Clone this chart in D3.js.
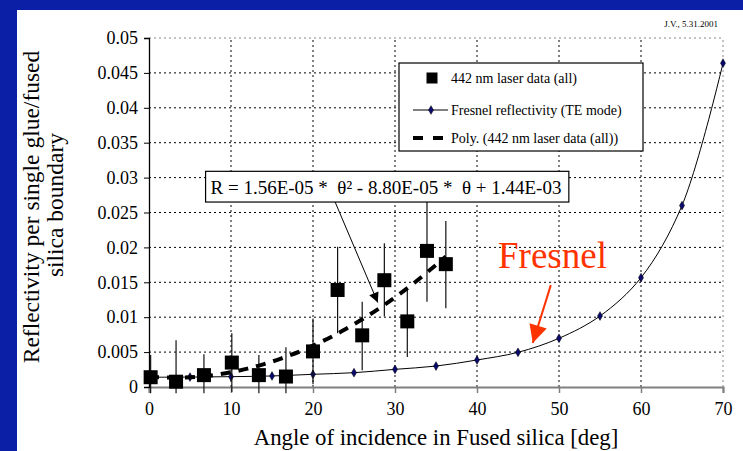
<!DOCTYPE html>
<html>
<head>
<meta charset="utf-8">
<script src="https://cdn.jsdelivr.net/npm/d3@7"></script>
<style>
  body { margin: 0; padding: 0; overflow: hidden; }
  svg text { font-family: "Liberation Serif", "Times New Roman", serif; }
</style>
</head>
<body>
<div id="plotArea"></div>
<script>
// laser measurements (442 nm)
const laserAngle = [0.2, 3.3, 6.7, 10.1, 13.4, 16.7, 20.0, 23.0, 26.0, 28.7, 31.5, 33.9, 36.2];
const laserR     = [0.0014, 0.00076, 0.0017, 0.0035, 0.0017, 0.0015, 0.0051, 0.0139, 0.0074, 0.0153, 0.0094, 0.0195, 0.0176];
const laserHigh  = [0.0046, 0.0067, 0.0047, 0.0077, 0.0046, 0.0057, 0.0098, 0.0201, 0.0122, 0.0206, 0.0139, 0.0268, 0.0238];
const laserLow   = [-0.0009, -0.0009, -0.0009, -0.0007, -0.0009, -0.0009, 0.0004, 0.0077, 0.0024, 0.0101, 0.0043, 0.0122, 0.0113];

// Fresnel reflectivity, TE mode
const fresnelAngle = [0, 5, 10, 15, 20, 25, 30, 35, 40, 45, 50, 55, 60, 65, 70];
const fresnelR     = [0.0014, 0.00142, 0.00148, 0.00158, 0.00182, 0.00205, 0.00253, 0.0030, 0.00387, 0.00497, 0.00698, 0.01017, 0.01566, 0.026, 0.0464];

// polynomial trendline as drawn
const trendAngle = [0, 4, 8, 12, 16, 20, 24, 28, 32, 36.2];
const trendR     = [0.00144, 0.00134, 0.00173, 0.00263, 0.00403, 0.00592, 0.00831, 0.01121, 0.0146, 0.01869];

const xTicks = [0, 10, 20, 30, 40, 50, 60, 70];
const yTicks = [0, 0.005, 0.01, 0.015, 0.02, 0.025, 0.03, 0.035, 0.04, 0.045, 0.05];

const legendLabels = ["442 nm laser data (all)", "Fresnel reflectivity (TE mode)", "Poly. (442 nm laser data (all))"];
const equationText = "R = 1.56E-05 *  \u03b8\u00b2 - 8.80E-05 *  \u03b8 + 1.44E-03";

const serif = "'Liberation Serif', 'Times New Roman', serif";

let W = 743, H = 451;
let svg = d3.select("#plotArea").append("svg")
    .attr("width", W)
    .attr("height", H)
    .attr("font-family", serif);

// slide background
svg.append("rect").attr("width", W).attr("height", H).attr("fill", "#0b1ea6");
svg.append("rect").attr("x", 17).attr("y", 10).attr("width", W - 17).attr("height", H - 10).attr("fill", "#fff");

svg.append("text")
    .attr("x", 718).attr("y", 27)
    .attr("text-anchor", "end")
    .style("font-size", "9px")
    .text("J.V., 5.31.2001");

// Scales
let xScale = d3.scaleLinear().domain([0, 70]).range([149, 723]);
let yScale = d3.scaleLinear().domain([0, 0.05]).range([387, 38]);

// Gridlines
svg.append("g").selectAll("line")
    .data(yTicks.slice(1))
    .enter().append("line")
    .attr("x1", xScale(0)).attr("x2", xScale(70))
    .attr("y1", d => yScale(d)).attr("y2", d => yScale(d))
    .attr("stroke", d => d === 0.05 ? "#888" : "#000")
    .attr("stroke-width", 1)
    .attr("stroke-dasharray", "2,3");

svg.append("g").selectAll("line")
    .data(xTicks.slice(1))
    .enter().append("line")
    .attr("x1", d => xScale(d)).attr("x2", d => xScale(d))
    .attr("y1", yScale(0)).attr("y2", yScale(0.05))
    .attr("stroke", d => d === 70 ? "#888" : "#000")
    .attr("stroke-width", 1)
    .attr("stroke-dasharray", "2,3");

// Axes
let xAxis = d3.axisBottom(xScale).tickValues(xTicks).tickSize(6).tickPadding(9);
let yAxis = d3.axisLeft(yScale).tickValues(yTicks).tickSize(5).tickPadding(6)
    .tickFormat(d => String(+d.toFixed(3)));

let gx = svg.append("g")
    .attr("transform", "translate(0," + yScale(0) + ")")
    .attr("font-family", serif)
    .attr("font-size", 18)
    .call(xAxis);
gx.attr("font-family", serif).attr("font-size", 18);
gx.select(".domain").attr("stroke", "#808080").attr("stroke-width", 2);
gx.selectAll(".tick line").attr("stroke", "#808080").attr("stroke-width", 1.5);
gx.selectAll("text").attr("fill", "#000");

let gy = svg.append("g")
    .attr("transform", "translate(" + xScale(0) + ",0)")
    .call(yAxis);
gy.attr("font-family", serif).attr("font-size", 18);
gy.select(".domain").attr("stroke", "#000").attr("stroke-width", 1.3);
gy.selectAll(".tick line").attr("stroke", "#000");
gy.selectAll("text").attr("fill", "#000");

// Axis titles
svg.append("text")
    .attr("x", 436).attr("y", 445)
    .attr("text-anchor", "middle")
    .style("font-size", "22.8px")
    .text("Angle of incidence in Fused silica [deg]");

svg.append("text")
    .attr("transform", "translate(39,207) rotate(-90)")
    .attr("text-anchor", "middle")
    .style("font-size", "23.5px")
    .text("Reflectivity per single glue/fused");
svg.append("text")
    .attr("transform", "translate(63,205) rotate(-90)")
    .attr("text-anchor", "middle")
    .style("font-size", "23.5px")
    .text("silica boundary");

// Fresnel curve
let line = d3.line()
    .x((d, i) => xScale(fresnelAngle[i]))
    .y(d => yScale(d))
    .curve(d3.curveCatmullRom.alpha(0.5));

svg.append("path")
    .datum(fresnelR)
    .attr("fill", "none")
    .attr("stroke", "#000")
    .attr("stroke-width", 1)
    .attr("d", line);

let diamond = d3.symbol().type(d3.symbolDiamond).size(22);
svg.append("g").selectAll("path")
    .data(fresnelR)
    .enter().append("path")
    .attr("d", diamond)
    .attr("transform", (d, i) => "translate(" + xScale(fresnelAngle[i]) + "," + yScale(d) + ")")
    .attr("fill", "#0a0a6e")
    .attr("stroke", "#000")
    .attr("stroke-width", 0.5);

// Error bars
svg.append("g").selectAll("line")
    .data(laserR)
    .enter().append("line")
    .attr("x1", (d, i) => xScale(laserAngle[i]))
    .attr("x2", (d, i) => xScale(laserAngle[i]))
    .attr("y1", (d, i) => yScale(laserHigh[i]))
    .attr("y2", (d, i) => yScale(laserLow[i]))
    .attr("stroke", "#111")
    .attr("stroke-width", 1.2);

// Trendline
let trendLine = d3.line()
    .x((d, i) => xScale(trendAngle[i]))
    .y(d => yScale(d))
    .curve(d3.curveNatural);

svg.append("path")
    .datum(trendR)
    .attr("fill", "none")
    .attr("stroke", "#000")
    .attr("stroke-width", 4)
    .attr("stroke-dasharray", "10,8")
    .attr("d", trendLine);

// Data squares
let sq = 14;
svg.append("g").selectAll("rect")
    .data(laserR)
    .enter().append("rect")
    .attr("x", (d, i) => xScale(laserAngle[i]) - sq / 2)
    .attr("y", d => yScale(d) - sq / 2)
    .attr("width", sq)
    .attr("height", sq)
    .attr("fill", "#000");

// Arrow heads
let defs = svg.append("defs");
defs.append("marker")
    .attr("id", "blackHead")
    .attr("viewBox", "0 0 10 10")
    .attr("refX", 10).attr("refY", 5)
    .attr("markerWidth", 12).attr("markerHeight", 10)
    .attr("markerUnits", "userSpaceOnUse")
    .attr("orient", "auto")
    .append("path").attr("d", "M0,0L10,5L0,10Z").attr("fill", "#000");
defs.append("marker")
    .attr("id", "redHead")
    .attr("viewBox", "0 0 10 10")
    .attr("refX", 10).attr("refY", 5)
    .attr("markerWidth", 20).attr("markerHeight", 18)
    .attr("markerUnits", "userSpaceOnUse")
    .attr("orient", "auto")
    .append("path").attr("d", "M0,0L10,5L0,10Z").attr("fill", "#ff3300");

// Equation leader line
svg.append("line")
    .attr("x1", xScale(22.7)).attr("y1", yScale(0.0265))
    .attr("x2", xScale(27.9)).attr("y2", yScale(0.0121))
    .attr("stroke", "#000")
    .attr("stroke-width", 1)
    .attr("marker-end", "url(#blackHead)");

// Equation box
let eq = svg.append("g");
eq.append("rect")
    .attr("x", xScale(6.9)).attr("y", yScale(0.0309))
    .attr("width", xScale(51.2) - xScale(6.9))
    .attr("height", yScale(0.0265) - yScale(0.0309))
    .attr("fill", "#fff")
    .attr("stroke", "#000")
    .attr("stroke-width", 1.2);
eq.append("text")
    .attr("x", xScale(7.5)).attr("y", yScale(0.0309) + 23)
    .style("font-size", "19px")
    .style("white-space", "pre")
    .text(equationText);

// Legend
let lg = svg.append("g");
lg.append("rect")
    .attr("x", 399).attr("y", 63)
    .attr("width", 244).attr("height", 88)
    .attr("fill", "#fff")
    .attr("stroke", "#000")
    .attr("stroke-width", 1.2);
let rowY = [78, 110, 138];
lg.append("rect")
    .attr("x", 432 - 5.5).attr("y", rowY[0] - 5.5)
    .attr("width", 11).attr("height", 11)
    .attr("fill", "#000");
lg.append("line")
    .attr("x1", 413).attr("x2", 448)
    .attr("y1", rowY[1]).attr("y2", rowY[1])
    .attr("stroke", "#000");
lg.append("path")
    .attr("d", diamond)
    .attr("transform", "translate(431," + rowY[1] + ")")
    .attr("fill", "#0a0a6e").attr("stroke", "#000").attr("stroke-width", 0.5);
lg.append("line")
    .attr("x1", 413).attr("x2", 444)
    .attr("y1", rowY[2]).attr("y2", rowY[2])
    .attr("stroke", "#000")
    .attr("stroke-width", 4)
    .attr("stroke-dasharray", "10,10");
lg.selectAll("text.lab")
    .data(legendLabels)
    .enter().append("text")
    .attr("class", "lab")
    .attr("x", 451)
    .attr("y", (d, i) => rowY[i] + 5)
    .style("font-size", "14px")
    .text(d => d);

// Fresnel annotation
svg.append("text")
    .attr("x", 498).attr("y", 268)
    .attr("fill", "#ff3300")
    .style("font-size", "37px")
    .text("Fresnel");
svg.append("line")
    .attr("x1", xScale(49.0)).attr("y1", yScale(0.0146))
    .attr("x2", xScale(46.8)).attr("y2", yScale(0.0063))
    .attr("stroke", "#ff3300")
    .attr("stroke-width", 2)
    .attr("marker-end", "url(#redHead)");
</script>
</body>
</html>
